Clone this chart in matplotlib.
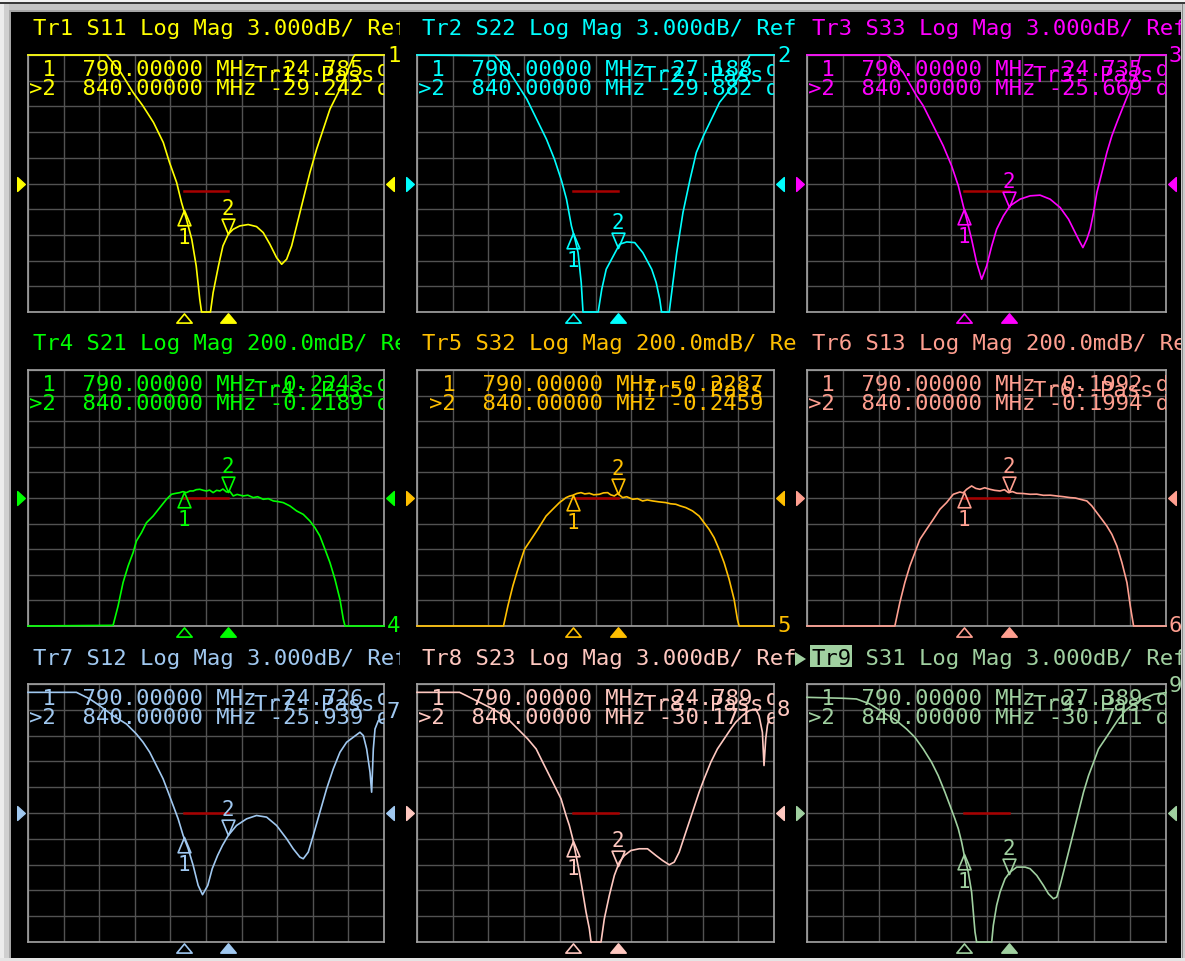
import numpy as np
import matplotlib
matplotlib.use("Agg")
import matplotlib.pyplot as plt
from matplotlib.path import Path
from matplotlib.patches import Rectangle, Polygon
from matplotlib.transforms import Bbox, offset_copy, blended_transform_factory

W, H = 1185, 962

# ---------------- data ----------------
f_start, f_stop = 615.0, 1015.0          # MHz (center 815, span 400)
marker_freqs = [790.0, 840.0]
limit_band = [790.0, 840.0]

trace_ids = ["Tr1", "Tr2", "Tr3", "Tr4", "Tr5", "Tr6", "Tr7", "Tr8", "Tr9"]
sparams = ["S11", "S22", "S33", "S21", "S32", "S13", "S12", "S23", "S31"]
scale_text = ["3.000dB/"] * 3 + ["200.0mdB/"] * 3 + ["3.000dB/"] * 3
div_size = [3.0] * 3 + [0.2] * 3 + [3.0] * 3
ref_level = [-20.0] * 3 + [-0.2] * 3 + [-20.0] * 3
limit_level = [-20.9] * 3 + [-0.2] * 3 + [-20.0] * 3
m1_readout = ["-24.785", "-27.188", "-24.735", "-0.2243", "-0.2287", "-0.1992", "-24.726", "-24.789", "-27.389"]
m2_readout = ["-29.242", "-29.882", "-25.669", "-0.2189", "-0.2459", "-0.1994", "-25.939", "-30.171", "-30.711"]
trace_colors = ["#ffff00", "#00ffff", "#ff00ff", "#00ff00", "#ffbf00", "#ff9f90", "#a0c8f0", "#ffc8c0", "#a0d0a0"]

tr1_f = [615, 703, 718, 733, 744, 756, 767, 774, 782, 787.5, 793, 799, 804, 808, 810, 820, 823, 829, 834, 840,
         845.6, 853, 862.4, 871.8, 879.3, 886.8, 894.3, 900, 905.6, 911.2, 916.8, 924.3, 931.8, 939.3, 946.8,
         954.3, 961.8, 969.3, 975, 980.5, 982.4, 1015]
tr1_db = [-5, -5, -6.83, -9.36, -10.92, -12.87, -15.21, -17.55, -19.88, -22.22, -24.17, -26.51, -29.62, -33.52,
          -35, -35, -32.74, -29.62, -27.29, -25.92, -25.34, -24.95, -24.79, -25.03, -25.73, -27.09, -28.65, -29.43,
          -28.84, -27.29, -24.95, -21.83, -18.71, -15.99, -13.65, -11.31, -9.75, -8.19, -6.64, -5.27, -5, -5]

tr2_f = [615, 702, 719, 738, 749, 760, 769, 777, 782.5, 788, 792, 795.5, 799, 801, 818, 822, 827, 835, 842, 850,
         859, 868, 878, 883, 887, 889, 897.6, 906, 913, 921, 928, 936, 945, 954, 966, 977, 988, 1015]
tr2_db = [-5, -5.08, -7.03, -10.14, -12.48, -14.82, -17.16, -19.69, -21.83, -24.95, -26.51, -28.07, -31.57, -35,
          -35, -32.35, -30.01, -28.45, -27.09, -26.82, -26.9, -28.07, -30.01, -31.57, -33.52, -35, -35, -28.07,
          -23.39, -19.49, -16.38, -14.43, -12.48, -10.53, -8.97, -7.42, -5, -5]

tr3_f = [615, 703.6, 707.3, 722.2, 737, 744.5, 755.7, 766.8, 776.1, 783.6, 789.1, 792.9, 798.4, 804, 809.6, 815.2,
         820.8, 826.3, 833.8, 841.2, 852.4, 863.6, 874.7, 885.9, 897, 906.4, 913.8, 919.4, 922.4, 926.8, 930.5,
         934.3, 938, 943.6, 949.1, 954.7, 960.3, 967.7, 975.2, 980.8, 986.4, 1015]
tr3_db = [-5, -5, -5.27, -7.03, -9.75, -10.92, -13.26, -15.6, -17.93, -20.27, -22.61, -24.17, -26.51, -29.23,
          -31.18, -29.62, -27.29, -25.34, -23.78, -22.61, -21.83, -21.44, -21.36, -21.83, -22.8, -24.17, -25.73,
          -26.9, -27.48, -26.51, -25.34, -23.39, -21.05, -18.71, -16.38, -14.43, -12.87, -10.92, -8.97, -7.42, -5, -5]

tr4_f = [615, 710.6, 716.2, 721.8, 727.5, 733.1, 736.8, 742.5, 748.1, 755.6, 763.1, 770.6, 776.2, 780, 785.6, 789,
         793, 797, 800.6, 804, 808, 812, 815.6, 819, 823, 827, 830.6, 834, 838, 842, 845.6, 850, 856.8, 862,
         868.1, 873, 879.3, 885, 890.6, 896, 901.8, 909.3, 916.8, 924.3, 931.8, 937.4, 943, 948.7, 954.3, 959.9,
         965.5, 969.3, 971.2, 1015]
tr4_db = [-1.2, -1.195, -1.044, -0.861, -0.731, -0.627, -0.536, -0.471, -0.393, -0.341, -0.275, -0.210, -0.171,
          -0.165, -0.158, -0.150, -0.158, -0.145, -0.145, -0.135, -0.132, -0.140, -0.145, -0.138, -0.158, -0.140,
          -0.145, -0.130, -0.153, -0.150, -0.184, -0.172, -0.184, -0.178, -0.197, -0.190, -0.210, -0.205, -0.223,
          -0.228, -0.236, -0.262, -0.301, -0.328, -0.380, -0.432, -0.497, -0.601, -0.705, -0.835, -0.992, -1.148,
          -1.2, -1.2]

tr5_f = [615, 711.9, 716.8, 722.4, 728, 735.4, 742.9, 750.3, 759.6, 767.1, 774.6, 782, 786, 789.5, 794, 798.8, 803,
         808.1, 813, 819.3, 824, 828.6, 832, 836.1, 840, 845.4, 850, 856.6, 862, 867.8, 873, 879, 886, 893.8, 899,
         905, 910, 916.2, 923.7, 931.1, 936.7, 942.3, 947.9, 953.5, 959.1, 964.7, 970.3, 974, 975.9, 1015]
tr5_db = [-1.2, -1.2, -1.044, -0.887, -0.757, -0.601, -0.523, -0.445, -0.341, -0.288, -0.236, -0.197, -0.185,
          -0.179, -0.165, -0.158, -0.168, -0.163, -0.175, -0.171, -0.160, -0.158, -0.175, -0.184, -0.165, -0.197,
          -0.190, -0.210, -0.205, -0.223, -0.215, -0.223, -0.230, -0.236, -0.245, -0.249, -0.262, -0.275, -0.301,
          -0.341, -0.393, -0.445, -0.510, -0.601, -0.705, -0.835, -0.992, -1.148, -1.2, -1.2]

tr6_f = [615, 712.9, 718.4, 724, 729.6, 735.2, 740.8, 748.2, 755.7, 763.1, 770.5, 778, 785.4, 789, 792.9, 798.4,
         803, 807.7, 813, 818.9, 824, 830.1, 835, 839.4, 844, 848.7, 856, 863.6, 871, 878.4, 886, 893.3, 901,
         908.2, 914, 919.4, 926.8, 932.4, 938, 943.6, 949.1, 954.7, 960.3, 965.9, 971.5, 975.2, 978.9, 1015]
tr6_db = [-1.2, -1.2, -1.018, -0.861, -0.731, -0.627, -0.523, -0.445, -0.367, -0.288, -0.236, -0.171, -0.153,
          -0.160, -0.132, -0.106, -0.125, -0.132, -0.120, -0.132, -0.140, -0.145, -0.135, -0.158, -0.150, -0.163,
          -0.165, -0.171, -0.170, -0.179, -0.178, -0.184, -0.190, -0.197, -0.200, -0.210, -0.223, -0.262, -0.315,
          -0.367, -0.419, -0.484, -0.575, -0.705, -0.861, -1.044, -1.2, -1.2]

tr7_f = [615, 669.4, 673.1, 684.4, 695.6, 710.6, 725.6, 736.8, 744.3, 751.8, 759.3, 766.8, 772.5, 778.1, 783.7,
         789.3, 795, 800.6, 806.2, 811.1, 817, 822, 828, 833.5, 840, 849.3, 860.6, 871.8, 883.1, 894.3, 905.6, 913,
         920.5, 924.3, 929.9, 935.5, 943, 950.5, 958, 965.5, 973, 980.5, 988, 991.8, 995.5, 999.3, 1001.1, 1002,
         1003, 1004.9, 1008.6, 1015]
tr7_db = [-5.97, -5.97, -6.16, -6.74, -7.52, -8.68, -9.65, -10.81, -11.77, -12.94, -14.48, -16.03, -17.58, -19.13,
          -20.68, -22.61, -24.16, -26.1, -28.42, -29.5, -28.42, -26.48, -24.94, -23.77, -22.61, -21.45, -20.68,
          -20.29, -20.48, -21.45, -23.0, -24.16, -25.13, -25.32, -24.55, -22.61, -19.9, -17.19, -14.87, -12.94,
          -11.77, -11.19, -10.61, -11.0, -12.55, -15.26, -17.58, -15.26, -12.55, -10.23, -9.26, -9.06]

tr8_f = [615, 662.7, 670.2, 685.1, 700, 714.9, 728, 739.1, 748.5, 755.9, 763.4, 770.8, 776.4, 782, 785.7, 789.5,
         793.2, 796.9, 800.7, 804.4, 808.1, 810, 821.2, 824.9, 830.5, 836.1, 841.7, 847.3, 854.7, 864, 873.3,
         882.7, 890.1, 897.6, 903.2, 908.8, 916.2, 923.7, 931.1, 936.7, 944.2, 951.6, 959.1, 966.6, 972.1, 979.6,
         987.1, 994.5, 998.2, 1002, 1003.8, 1005.7, 1007.6, 1009.4, 1015]
tr8_db = [-5.97, -5.97, -6.35, -7.13, -7.9, -8.87, -10.23, -11.39, -12.55, -14.1, -15.65, -17.19, -18.35, -20.29,
          -21.45, -23.0, -24.94, -26.87, -29.19, -31.52, -33.45, -35, -35, -32.29, -29.58, -27.26, -25.71, -24.94,
          -24.36, -24.16, -24.16, -24.94, -25.52, -26.02, -25.71, -24.55, -22.23, -19.9, -17.58, -16.03, -14.1,
          -12.55, -11.39, -10.23, -9.45, -8.68, -8.1, -7.9, -8.68, -10.61, -14.48, -11.39, -9.84, -9.06, -8.87]

tr9_f = [615, 655.2, 670.1, 685, 699.8, 714.7, 725.9, 735.2, 744.5, 753.8, 761.2, 768.7, 774.3, 779.8, 783.6,
         787.3, 791, 794.7, 798.4, 800.3, 802.2, 804, 820.8, 822.6, 826.3, 830.1, 835.7, 841.2, 848.7, 858, 863.6,
         871, 878.4, 884, 889.6, 893.3, 897, 900.8, 906.4, 912, 917.5, 923.1, 928.7, 934.3, 939.8, 947.3, 954.7,
         962.2, 969.6, 978.9, 990.1, 1001.2, 1015]
tr9_db = [-6.55, -6.66, -6.74, -7.32, -8.29, -9.26, -10.23, -11.19, -12.55, -14.1, -15.65, -17.58, -19.13, -20.68,
          -21.84, -23.39, -25.32, -26.87, -29.19, -31.52, -33.84, -35, -35, -33.06, -30.74, -29.19, -27.64, -26.87,
          -26.29, -26.29, -26.48, -27.26, -28.42, -29.39, -29.97, -29.77, -28.42, -26.87, -24.55, -22.23, -19.9,
          -17.58, -15.65, -14.1, -12.55, -11.39, -10.23, -9.06, -8.1, -7.32, -6.74, -6.2, -6.0]

trace_f = [tr1_f, tr2_f, tr3_f, tr4_f, tr5_f, tr6_f, tr7_f, tr8_f, tr9_f]
trace_db = [tr1_db, tr2_db, tr3_db, tr4_db, tr5_db, tr6_db, tr7_db, tr8_db, tr9_db]

# ---------------- layout (pixels) ----------------
col_left = [28, 417, 807]
col_right = [384, 774, 1166]
row_top = [56, 371, 685]
row_bot = [313, 627, 943]
title_base = [35, 350, 665]
title_clip = [(12, 400), (402, 797), (808, 1181)]

MONO = "DejaVu Sans Mono"
FS = 16

fig = plt.figure(figsize=(W / 100, H / 100), dpi=100, facecolor="#d6d6d6")
bg = fig.add_axes([0, 0, 1, 1])
bg.set_xlim(0, W)
bg.set_ylim(H, 0)
bg.axis("off")


def rect(x0, y0, x1, y1, color, z=0):
    bg.add_patch(Rectangle((x0, y0), x1 - x0, y1 - y0, facecolor=color, edgecolor="none", zorder=z))


# window frame
rect(0, 0, W, 3, "#f2f2f2")
rect(0, 3, W, 5, "#3a3a3a")
rect(0, 5, W, 13, "#c4c4c4")
rect(0, 5, 4, H, "#ececec")
rect(4, 5, 9, H, "#cfcfcf")
rect(9, 11, 11, H, "#a6a6a6")
rect(9, 11, W, 13, "#a6a6a6")
rect(1181, 5, W, H, "#cccccc")
rect(1182, 5, 1183, H, "#8a8a8a")
rect(0, 959, W, H, "#e4e4e4")
rect(11, 13, 1181, 959, "#000000", z=0.5)


def mk(verts):
    codes = [Path.MOVETO] + [Path.LINETO] * (len(verts) - 2) + [Path.CLOSEPOLY]
    return Path(verts, codes)


m1_path = mk([(0, 0), (0.42, -1), (-0.42, -1), (0, 0)])    # apex on trace, body below
m2_path = mk([(0, 0), (0.42, 1), (-0.42, 1), (0, 0)])      # apex on trace, body above
bot_path = mk([(-1, -0.6), (1, -0.6), (0, 0.6), (-1, -0.6)])
refL_path = mk([(-0.55, -1), (0.55, 0), (-0.55, 1), (-0.55, -1)])
refR_path = mk([(0.55, -1), (-0.55, 0), (0.55, 1), (0.55, -1)])

for i in range(9):
    r, c = divmod(i, 3)
    col = trace_colors[i]
    l, rr, t, b = col_left[c], col_right[c], row_top[r], row_bot[r]
    w, h = rr - l, b - t
    ax = fig.add_axes([l / W, 1 - b / H, w / W, h / H])
    ax.set_facecolor("black")
    ylo = ref_level[i] - 5 * div_size[i]
    yhi = ref_level[i] + 5 * div_size[i]
    ax.set_xlim(f_start, f_stop)
    ax.set_ylim(ylo, yhi)
    ax.set_xticks(np.linspace(f_start, f_stop, 11))
    ax.set_yticks(np.linspace(ylo, yhi, 11))
    ax.tick_params(length=0, labelbottom=False, labelleft=False)
    ax.grid(True, color="#525252", lw=1.0)
    ax.set_axisbelow(True)
    for s in ax.spines.values():
        s.set_color("#a4a4a4")
        s.set_linewidth(1.2)

    f = np.asarray(trace_f[i], float)
    y = np.clip(np.asarray(trace_db[i], float), ylo, yhi)

    # limit line
    ax.plot(limit_band, [limit_level[i]] * 2, color="#a80000", lw=1.8, zorder=3)
    # trace
    ax.plot(f, y, color=col, lw=1.2, clip_on=False, zorder=4)

    # markers on trace
    y1 = np.interp(marker_freqs[0], f, y)
    y2 = np.interp(marker_freqs[1], f, y)
    ax.plot([marker_freqs[0]], [y1], marker=m1_path, ms=22, mfc="none", mec=col, mew=1.2, zorder=5, clip_on=False)
    ax.plot([marker_freqs[1]], [y2], marker=m2_path, ms=22, mfc="none", mec=col, mew=1.2, zorder=5, clip_on=False)
    ax.annotate("1", xy=(marker_freqs[0], y1), xytext=(0, -17), textcoords="offset pixels", ha="center",
                va="top", color=col, fontsize=15, family=MONO, zorder=5, annotation_clip=False)
    ax.annotate("2", xy=(marker_freqs[1], y2), xytext=(0, 16), textcoords="offset pixels", ha="center",
                va="bottom", color=col, fontsize=15, family=MONO, zorder=5, annotation_clip=False)

    # marker indicators below the grid
    tb = blended_transform_factory(ax.transData, ax.transAxes)
    ax.plot([marker_freqs[0]], [-6.0 / h], transform=tb, marker=bot_path, ms=11, mfc="black", mec=col,
            mew=1.2, clip_on=False)
    ax.plot([marker_freqs[1]], [-6.0 / h], transform=tb, marker=bot_path, ms=11, mfc=col, mec=col,
            mew=1.2, clip_on=False)

    # reference position indicators
    tr_ = blended_transform_factory(ax.transAxes, ax.transData)
    ax.plot([-7.0 / w], [ref_level[i]], transform=tr_, marker=refL_path, ms=10, mfc=col, mec=col, clip_on=False)
    ax.plot([1 + 6.0 / w], [ref_level[i]], transform=tr_, marker=refR_path, ms=10, mfc=col, mec=col, clip_on=False)

    # trace number label at right end
    yend = y[-1]
    ypx = (yhi - yend) / (yhi - ylo) * h
    if yend <= ylo:
        lab = ypx - 1
    else:
        lab = max(ypx - 8, 0)
    ax.annotate(str(i + 1), xy=(f_stop, yend), xytext=(3, ypx - lab), textcoords="offset pixels",
                ha="left", va="center", color=col, fontsize=FS, family=MONO, annotation_clip=False)

    # marker readouts
    dx = 1 + (11 if i == 4 else 0)
    l1 = " 1  790.00000 MHz %s dB" % m1_readout[i]
    l2 = ">2  840.00000 MHz %s dB" % m2_readout[i]
    ax.text(0, 1, l1, transform=offset_copy(ax.transAxes, fig=fig, x=dx, y=-20, units="dots"),
            color=col, fontsize=FS, family=MONO, va="baseline", ha="left", clip_on=True, zorder=6)
    ax.text(0, 1, l2, transform=offset_copy(ax.transAxes, fig=fig, x=dx, y=-39, units="dots"),
            color=col, fontsize=FS, family=MONO, va="baseline", ha="left", clip_on=True, zorder=6)
    ax.text(0, 1, "%s: Pass" % trace_ids[i],
            transform=offset_copy(ax.transAxes, fig=fig, x=226, y=-26.5, units="dots"),
            color=col, fontsize=FS, family=MONO, va="baseline", ha="left", clip_on=True, zorder=6)

    # channel title
    title = "%s %s Log Mag %s Ref" % (trace_ids[i], sparams[i], scale_text[i])
    tx, ty = l + 5, title_base[r]
    cx0, cx1 = title_clip[c]
    cbox = Bbox.from_extents(cx0, H - (ty + 12), cx1, H - (ty - 26))
    if i == 8:
        rect(tx - 2, ty - 19, tx + 40, ty + 3, col, z=1)
        bg.add_patch(Polygon([(795, ty - 12), (806, ty - 5), (795, ty + 2)], closed=True,
                             facecolor=col, edgecolor="none", zorder=1))
        t1 = bg.text(tx, ty, trace_ids[i], color="black", fontsize=FS, family=MONO, va="baseline", zorder=2)
        t2 = bg.text(tx, ty, " " * len(trace_ids[i]) + title[len(trace_ids[i]):], color=col, fontsize=FS,
                     family=MONO, va="baseline", zorder=2)
        for tt in (t1, t2):
            tt.set_clip_box(cbox)
            tt.set_clip_on(True)
    else:
        tt = bg.text(tx, ty, title, color=col, fontsize=FS, family=MONO, va="baseline", zorder=2)
        tt.set_clip_box(cbox)
        tt.set_clip_on(True)

fig.savefig("out.png", dpi=100, facecolor=fig.get_facecolor())
